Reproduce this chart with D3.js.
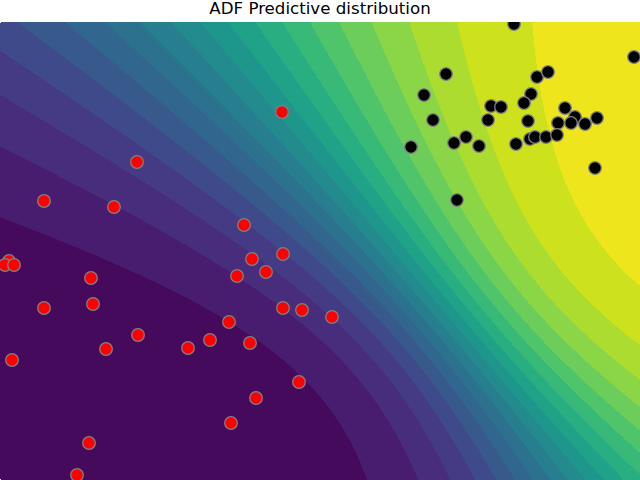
<!DOCTYPE html>
<html>
<head>
<meta charset="utf-8">
<script src="https://cdn.jsdelivr.net/npm/d3@7"></script>
<style>
  body { margin: 0; background: #fff; }
</style>
</head>
<body>
<div id="chart"></div>
<script>
// points, in data units
var redX = [-0.38, -1.83, -2.76, -2.06, -0.76, -3.11, -3.15, -3.06, -0.37, -0.68,
            -0.54, -0.83, -2.29, -2.27, -2.76, -0.37, -0.18, 0.12, -0.91, -1.82,
            -1.10, -1.32, -2.14, -0.70, -3.08, -0.21, -0.64, -0.89, -2.31, -2.43];
var redY = [1.39, 0.89, 0.50, 0.44, 0.26, -0.10, -0.14, -0.14, -0.03, -0.08,
            -0.21, -0.25, -0.27, -0.53, -0.57, -0.57, -0.59, -0.66, -0.71, -0.84,
            -0.89, -0.97, -0.98, -0.92, -1.09, -1.31, -1.47, -1.72, -1.92, -2.24];
var blackX = [1.94, 3.14, 1.26, 2.17, 2.28, 1.04, 2.11, 2.04, 1.71, 1.81,
              2.45, 1.13, 1.68, 2.08, 2.55, 2.77, 2.38, 2.51, 2.65, 1.46,
              1.34, 1.59, 0.91, 1.96, 2.10, 2.15, 2.26, 2.37, 2.75, 1.37];
var blackY = [2.27, 1.94, 1.77, 1.74, 1.79, 1.56, 1.57, 1.48, 1.45, 1.44,
              1.43, 1.31, 1.31, 1.30, 1.34, 1.33, 1.28, 1.28, 1.27, 1.14,
              1.08, 1.05, 1.04, 1.07, 1.12, 1.14, 1.14, 1.16, 0.83, 0.51];

// ADF posterior over [bias, w1, w2]
var postMean = [-1.198, 1.645, 1.385];
var postCov = [[ 1.500, -0.442,  0.835],
               [-0.442,  0.255, -0.195],
               [ 0.835, -0.195,  0.670]];

// contour levels (20 bands)
var levels = d3.range(0, 1.0001, 0.05);

var margin = {top: 22, right: 0, bottom: 0, left: 0},
    width = 640 - margin.left - margin.right,
    height = 480 - margin.top - margin.bottom;

var svg = d3.select("#chart")
    .append("svg")
    .attr("width", 640)
    .attr("height", 480);

svg.append("text")
    .attr("x", 320)
    .attr("y", 14)
    .attr("text-anchor", "middle")
    .attr("font-family", "DejaVu Sans")
    .attr("font-size", "16.67px")
    .attr("fill", "#000")
    .text("ADF Predictive distribution");

var g = svg.append("g")
    .attr("transform", "translate(" + margin.left + "," + margin.top + ")");

g.append("clipPath")
    .attr("id", "plotclip")
    .append("rect")
    .attr("width", width)
    .attr("height", height);

var x = d3.scaleLinear().domain([-3.2, 3.2]).range([0, width]);
var y = d3.scaleLinear().domain([-2.29, 2.29]).range([height, 0]);

// probit approximation of the predictive
function predictive(px, py) {
    var phi = [1, px, py];
    var m = 0, v = 0;
    for (var i = 0; i < 3; i++) {
        m += postMean[i] * phi[i];
        for (var j = 0; j < 3; j++) v += phi[i] * postCov[i][j] * phi[j];
    }
    var a = m / Math.sqrt(Math.max(1e-6, 1 + Math.PI / 8 * v));
    return 1 / (1 + Math.exp(-a));
}

// evaluate on a grid
var step = 2,
    nx = Math.ceil(width / step),
    ny = Math.ceil(height / step);
var values = new Array(nx * ny);
for (var j = 0; j < ny; j++) {
    for (var i = 0; i < nx; i++) {
        values[i + j * nx] = predictive(x.invert((i + 0.5) * step), y.invert((j + 0.5) * step));
    }
}

var bands = d3.contours()
    .size([nx, ny])
    .thresholds(levels.slice(0, levels.length - 1))
    (values);

var nBands = levels.length - 1;

g.append("g")
    .attr("clip-path", "url(#plotclip)")
    .selectAll("path")
    .data(bands)
    .enter()
    .append("path")
    .attr("d", d3.geoPath(d3.geoIdentity().scale(step)))
    .attr("fill", function(d, i) { return d3.interpolateViridis((i + 0.5) / nBands); })
    .attr("shape-rendering", "crispEdges");

// scatter
var pts = g.append("g").attr("clip-path", "url(#plotclip)");

pts.selectAll(".red")
    .data(d3.range(redX.length))
    .enter()
    .append("circle")
    .attr("class", "red")
    .attr("cx", function(d) { return x(redX[d]); })
    .attr("cy", function(d) { return y(redY[d]); })
    .attr("r", 6.3)
    .attr("fill", "#ff0000")
    .attr("stroke", "gray")
    .attr("stroke-width", 1.3);

pts.selectAll(".black")
    .data(d3.range(blackX.length))
    .enter()
    .append("circle")
    .attr("class", "black")
    .attr("cx", function(d) { return x(blackX[d]); })
    .attr("cy", function(d) { return y(blackY[d]); })
    .attr("r", 6.3)
    .attr("fill", "#000000")
    .attr("stroke", "gray")
    .attr("stroke-width", 1.3);
</script>
</body>
</html>
